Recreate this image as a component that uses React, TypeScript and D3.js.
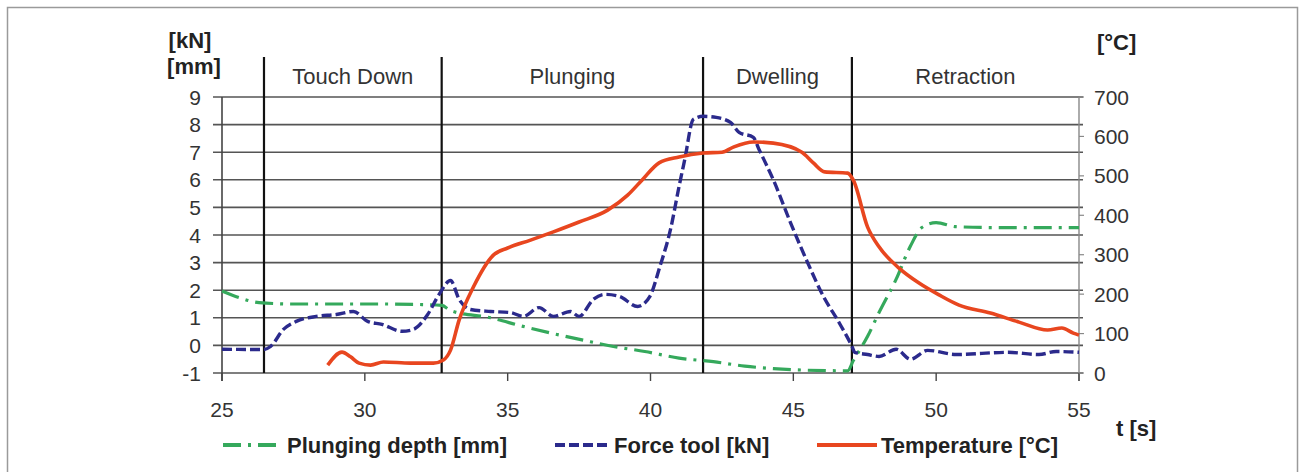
import React from 'react';
import * as d3 from 'd3';

// time axis ticks [s]
const timeTicks = [25, 30, 35, 40, 45, 50, 55];
const leftTicks = [-1, 0, 1, 2, 3, 4, 5, 6, 7, 8, 9];
const rightTicks = [0, 100, 200, 300, 400, 500, 600, 700];

// process phases: start time and label
const phaseStarts = [26.47, 32.69, 41.84, 47.05];
const phaseLabels = ['Touch Down', 'Plunging', 'Dwelling', 'Retraction'];

// Plunging depth [mm]
const depthT = [25, 25.6, 26.3, 27.5, 29, 30.5, 32, 32.7, 33, 34.4, 35.5, 36.5, 37.6, 38.7, 39.8, 41, 42.2, 43.3, 44.3, 45.5, 46.9, 47.1, 47.6, 48, 48.6, 49.1, 49.5, 50, 50.7, 52, 55];
const depthV = [1.97, 1.73, 1.55, 1.5, 1.5, 1.5, 1.48, 1.45, 1.26, 1.0, 0.7, 0.45, 0.2, -0.04, -0.22, -0.46, -0.59, -0.75, -0.84, -0.9, -0.92, -0.55, 0.33, 1.19, 2.4, 3.6, 4.27, 4.45, 4.3, 4.27, 4.27];

// Force tool [kN]
const forceT = [25, 26.45, 26.7, 27.15, 27.6, 28.3, 29, 29.6, 30.1, 30.6, 31.3, 31.7, 32.2, 32.6, 33.0, 33.3, 33.7, 34.4, 35.1, 35.55, 36.1, 36.6, 37.2, 37.5, 38.0, 38.4, 38.9, 39.55, 39.98, 40.33, 40.7, 41.0, 41.2, 41.5, 41.84, 42.3, 42.8, 43.1, 43.6, 43.8, 44.3, 44.9, 45.5, 46.05, 46.6, 47.05, 47.15, 47.6, 48.0, 48.6, 49.1, 49.7, 50.7, 52.5, 53.6, 54.2, 55];
const forceV = [-0.14, -0.15, -0.04, 0.58, 0.87, 1.05, 1.12, 1.23, 0.87, 0.76, 0.51, 0.58, 1.12, 1.85, 2.35, 1.67, 1.3, 1.23, 1.19, 1.05, 1.37, 1.05, 1.23, 1.05, 1.67, 1.85, 1.78, 1.41, 1.78, 2.86, 4.2, 5.76, 6.74, 8.19, 8.3, 8.26, 8.08, 7.72, 7.54, 7.1, 6.0, 4.45, 3.0, 1.78, 0.83, -0.03, -0.25, -0.33, -0.4, -0.14, -0.5, -0.18, -0.33, -0.25, -0.33, -0.22, -0.25];

// Temperature [°C]
const tempT = [28.7, 29.2, 29.5, 29.8, 30.2, 30.65, 31.6, 32.4, 32.75, 33.0, 33.3, 33.8, 34.5, 35.0, 35.8, 36.6, 37.5, 38.5, 39.2, 39.7, 40.3, 41.0, 41.84, 42.5, 42.9, 43.6, 44.3, 45.3, 45.7, 46.1, 46.9, 47.1, 47.6, 48.0, 48.7, 49.4, 50.1, 50.8, 51.9, 52.9, 53.9, 54.4, 54.8, 55];
const tempV = [20, 53, 41, 25, 20, 28, 25, 25, 33, 58, 134, 218, 299, 317, 337, 358, 383, 413, 451, 489, 533, 548, 558, 560, 573, 586, 583, 560, 533, 510, 507, 489, 370, 320, 266, 228, 198, 172, 152, 129, 109, 114, 101, 96];

const legendLabels = ['Plunging depth [mm]', 'Force tool [kN]', 'Temperature [°C]'];

const GREEN = '#35a95c';
const BLUE = '#2b2a8c';
const RED = '#e8461f';
const FONT = 'Liberation Sans, Arial, sans-serif';

const App = () => {
  const width = 1306;
  const height = 472;
  const left = 222;
  const right = 1079;
  const top = 97;
  const bottom = 373;

  const x = d3.scaleLinear().domain([25, 55]).range([left, right]);
  const yL = d3.scaleLinear().domain([-1, 9]).range([bottom, top]);
  const yR = d3.scaleLinear().domain([0, 700]).range([bottom, top]);

  const lineL = d3.line<[number, number]>()
    .x(d => x(d[0]))
    .y(d => yL(d[1]))
    .curve(d3.curveMonotoneX);
  const lineR = d3.line<[number, number]>()
    .x(d => x(d[0]))
    .y(d => yR(d[1]))
    .curve(d3.curveMonotoneX);

  const depth = depthT.map((t, i) => [t, depthV[i]] as [number, number]);
  const force = forceT.map((t, i) => [t, forceV[i]] as [number, number]);
  const temp = tempT.map((t, i) => [t, tempV[i]] as [number, number]);

  const phaseEdges = [...phaseStarts, 55];

  const legendItems = [
    { x: 223, color: GREEN, dash: '18 7 3 7', textX: 287 },
    { x: 555, color: BLUE, dash: '10 4', textX: 614 },
    { x: 817, color: RED, dash: '', textX: 881 },
  ];

  return (
    <svg width={width} height={height} style={{ position: 'absolute', left: 0, top: 0, background: '#fff' }} fontFamily={FONT}>
      {/* frame */}
      <path d={`M7.5,${height} V7.5 H1297.5 V${height}`} fill="none" stroke="#9a9a9a" strokeWidth={1.5} />

      {/* horizontal grid */}
      {leftTicks.map(v => (
        <line key={v} x1={left - 9} x2={right + 4} y1={yL(v)} y2={yL(v)} stroke="#555" strokeWidth={1.6} />
      ))}

      {/* axes */}
      <line x1={left} x2={left} y1={top} y2={bottom + 8} stroke="#444" strokeWidth={1.6} />
      <line x1={right} x2={right} y1={top} y2={bottom + 8} stroke="#888" strokeWidth={1.4} />
      {timeTicks.map(t => (
        <line key={t} x1={x(t)} x2={x(t)} y1={bottom} y2={bottom + 8} stroke="#444" strokeWidth={1.4} />
      ))}
      {rightTicks.map(v => (
        <line key={v} x1={right} x2={right + 5} y1={yR(v)} y2={yR(v)} stroke="#888" strokeWidth={1.2} />
      ))}

      {/* phase separators */}
      {phaseStarts.map(t => (
        <line key={t} x1={x(t)} x2={x(t)} y1={57} y2={bottom} stroke="#111" strokeWidth={2.2} />
      ))}
      {phaseLabels.map((l, i) => (
        <text key={l} x={(x(phaseEdges[i]) + x(phaseEdges[i + 1])) / 2} y={84} textAnchor="middle" fontSize={22} fill="#333">{l}</text>
      ))}

      {/* series */}
      <path d={lineL(depth) || ''} fill="none" stroke={GREEN} strokeWidth={3.2} strokeDasharray="18 7 3 7" />
      <path d={lineL(force) || ''} fill="none" stroke={BLUE} strokeWidth={3.4} strokeDasharray="10 4" />
      <path d={lineR(temp) || ''} fill="none" stroke={RED} strokeWidth={3.6} strokeLinejoin="round" />

      {/* tick labels */}
      {leftTicks.map(v => (
        <text key={v} x={201} y={yL(v)} dy="0.36em" textAnchor="end" fontSize={21} fill="#333">{v}</text>
      ))}
      {rightTicks.map(v => (
        <text key={v} x={1094} y={yR(v)} dy="0.36em" textAnchor="start" fontSize={21} fill="#333">{v}</text>
      ))}
      {timeTicks.map(t => (
        <text key={t} x={x(t)} y={417} textAnchor="middle" fontSize={21} fill="#333">{t}</text>
      ))}

      {/* units */}
      <text x={190} y={48} textAnchor="middle" fontSize={22} fontWeight="bold" fill="#222">[kN]</text>
      <text x={194} y={74} textAnchor="middle" fontSize={22} fontWeight="bold" fill="#222">[mm]</text>
      <text x={1097} y={50} fontSize={22} fontWeight="bold" fill="#222">[°C]</text>
      <text x={1116} y={436} fontSize={22} fontWeight="bold" fill="#222">t [s]</text>

      {/* legend */}
      {legendItems.map((it, i) => (
        <g key={legendLabels[i]}>
          <line x1={it.x} x2={it.textX - 4} y1={445} y2={445} stroke={it.color} strokeWidth={4} strokeDasharray={it.dash || undefined} />
          <text x={it.textX} y={453} fontSize={22} fontWeight="bold" fill="#222">{legendLabels[i]}</text>
        </g>
      ))}
    </svg>
  );
};

export default App;
